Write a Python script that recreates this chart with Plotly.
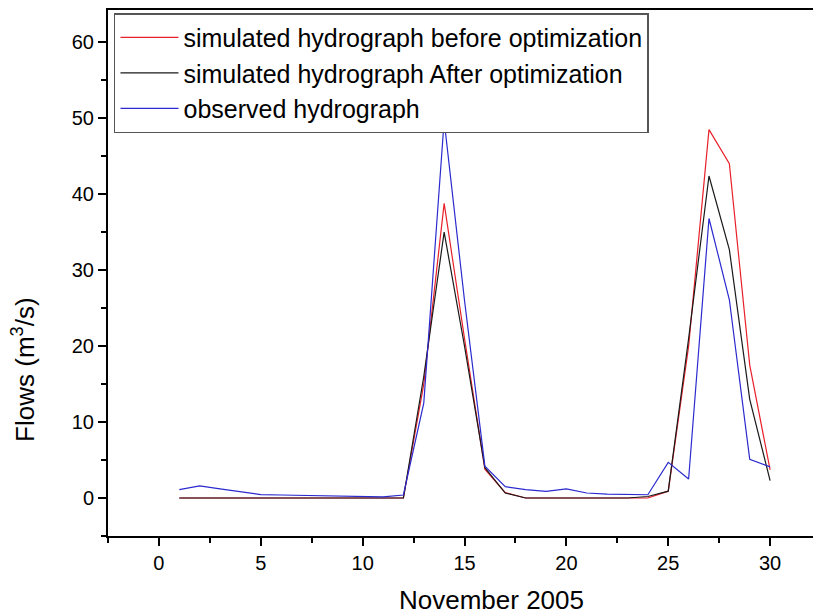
import plotly.graph_objects as go

days = list(range(1, 31))
before_opt = [0, 0, 0, 0, 0, 0, 0, 0, 0, 0, 0, 0, 15.0, 38.8, 21.0, 3.8, 0.7, 0, 0, 0,
              0, 0, 0, 0, 0.9, 20.0, 48.5, 44.0, 17.5, 3.7]
after_opt = [0, 0, 0, 0, 0, 0, 0, 0, 0, 0, 0, 0, 16.0, 35.0, 20.0, 4.0, 0.66, 0, 0, 0,
             0, 0, 0, 0.2, 0.9, 21.0, 42.4, 32.7, 13.0, 2.3]
observed = [1.1, 1.6, 1.2, 0.8, 0.45, 0.4, 0.35, 0.3, 0.2, 0.15, 0.15, 0.4, 12.5, 49.7, 26.0,
            4.2, 1.5, 1.1, 0.87, 1.2, 0.66, 0.5, 0.43, 0.43, 4.7, 2.5, 36.8, 26.1, 5.1, 4.1]
x_ticks = [0, 5, 10, 15, 20, 25, 30]
y_ticks = [0, 10, 20, 30, 40, 50, 60]
x_title = "November 2005"
y_title = "Flows (m<sup>3</sup>/s)"

FONT = "Liberation Sans, Arial, sans-serif"

fig = go.Figure()
fig.add_trace(go.Scatter(x=days, y=before_opt, mode="lines",
                         name="simulated hydrograph before optimization",
                         line=dict(color="#e8202a", width=1.2)))
fig.add_trace(go.Scatter(x=days, y=after_opt, mode="lines",
                         name="simulated hydrograph After optimization",
                         line=dict(color="#1a1a1a", width=1.2)))
fig.add_trace(go.Scatter(x=days, y=observed, mode="lines",
                         name="observed hydrograph",
                         line=dict(color="#2a2acf", width=1.2)))

axis_common = dict(showgrid=False, zeroline=False, showline=True, linecolor="black",
                   linewidth=2, mirror=True, ticks="outside", ticklen=8, tickwidth=2,
                   tickcolor="black", automargin=False,
                   tickfont=dict(family=FONT, size=20, color="black"))

fig.update_xaxes(range=[-2.5, 32.4], tickmode="array", tickvals=x_ticks,
                 minor=dict(dtick=2.5, tick0=0, ticks="outside", ticklen=5, tickwidth=2,
                            tickcolor="black"),
                 **axis_common)
fig.update_yaxes(range=[-5, 64.25], tickmode="array", tickvals=y_ticks,
                 minor=dict(dtick=5, tick0=0, ticks="outside", ticklen=5, tickwidth=2,
                            tickcolor="black"),
                 **axis_common)

fig.add_annotation(text=x_title, xref="paper", yref="paper", x=0.54, y=-0.122,
                   xanchor="center", yanchor="middle", showarrow=False,
                   font=dict(family=FONT, size=26, color="black"))
fig.add_annotation(text=y_title, xref="paper", yref="paper", x=-0.118, y=0.316,
                   xanchor="center", yanchor="middle", showarrow=False, textangle=-90,
                   font=dict(family=FONT, size=26, color="black"))

# the page body adds an 8px offset; margins compensate so the plot area lands
# at the same screen position as in the reference
fig.update_layout(
    width=821, height=616,
    margin=dict(l=100, r=10, t=2, b=88),
    paper_bgcolor="white", plot_bgcolor="white",
    showlegend=True,
    legend=dict(x=0.0084, y=0.994, xanchor="left", yanchor="top",
                bgcolor="white", bordercolor="#555555", borderwidth=1.5,
                font=dict(family=FONT, size=25, color="black"),
                tracegroupgap=0, itemwidth=58),
)

fig.write_html("out.html")
